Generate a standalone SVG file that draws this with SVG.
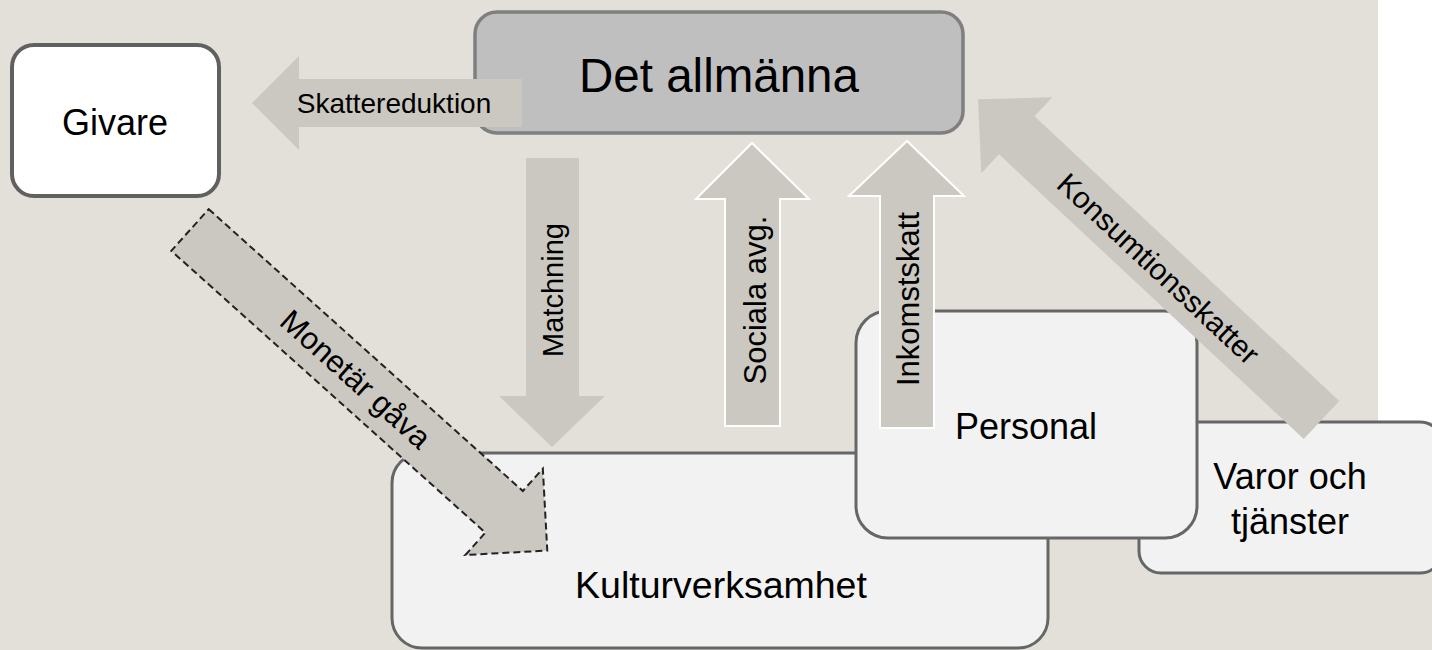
<svg xmlns="http://www.w3.org/2000/svg" width="1432" height="650" viewBox="0 0 1432 650">
<style>
text{font-family:"Liberation Sans",Arial,sans-serif;fill:#000;}
.node{stroke:#666;stroke-width:3;fill:#F2F2F2;}
.arr{fill:#CBC8C1;stroke:none;}
.arrw{fill:#CBC8C1;stroke:#FFFFFF;stroke-width:2;}
.arrd{fill:#CBC8C1;stroke:#222;stroke-width:2;stroke-dasharray:7 4;}
.big{font-size:36px;text-anchor:middle;}
</style>
<rect x="0" y="0" width="1432" height="650" fill="#E3E0D9"/>
<rect x="1378" y="0" width="54" height="422" fill="#FFFFFF"/>
<g id="givare">
<rect x="12" y="45" width="207" height="151" rx="22" fill="#FFFFFF" stroke="#606060" stroke-width="4"/>
<text class="big" x="115" y="135">Givare</text>
</g>
<g id="det-allmanna">
<rect x="475" y="12" width="488" height="121" rx="22" fill="#BFBFBF" stroke="#7F7F7F" stroke-width="3.5"/>
<text x="719" y="92" style="font-size:47.5px;text-anchor:middle">Det allmänna</text>
</g>
<g id="varor">
<rect class="node" x="1139" y="422" width="303" height="151" rx="22"/>
<text class="big" x="1290" y="489">Varor och</text>
<text class="big" x="1290" y="534">tjänster</text>
</g>
<g id="kulturverksamhet">
<rect class="node" x="392" y="453" width="656" height="195" rx="30"/>
<text x="721" y="598" style="font-size:37.5px;text-anchor:middle">Kulturverksamhet</text>
</g>
<g id="personal">
<rect class="node" x="856" y="311" width="341" height="227" rx="32"/>
<text class="big" x="1026" y="439">Personal</text>
</g>
<g id="connectors">
<g id="skattereduktion">
<polygon class="arr" points="252,103 299,56 299,79 522,79 522,127 299,127 299,150"/>
<text x="394" y="113" style="font-size:28px;text-anchor:middle">Skattereduktion</text>
</g>
<g id="matchning">
<polygon class="arr" points="526,158 579,158 579,396 605,396 552,447 499,396 526,396"/>
<text transform="translate(563,290) rotate(-90)" style="font-size:29px;text-anchor:middle">Matchning</text>
</g>
<g id="sociala">
<polygon class="arrw" points="725,426 780,426 780,199 809,199 752,143 696,199 725,199"/>
<text transform="translate(766,300) rotate(-90)" style="font-size:31px;text-anchor:middle">Sociala avg.</text>
</g>
<g id="inkomstskatt">
<polygon class="arrw" points="880,428 934,428 934,196 964,196 907,141 849,196 880,196"/>
<text transform="translate(919,299) rotate(-90)" style="font-size:31px;text-anchor:middle">Inkomstskatt</text>
</g>
<g id="monetar" transform="translate(190,230) rotate(41.9)">
<polygon class="arrd" points="0,-28 422,-28 422,-58 480,0 422,58 422,28 0,28"/>
<text x="223" y="11" style="font-size:31px;text-anchor:middle">Monetär gåva</text>
</g>
<g id="konsumtion">
<polygon class="arr" transform="translate(1321.5,420) rotate(223.05)" points="0,-26 417,-26 417,-52 470,0 417,52 417,26 0,26"/>
<text transform="translate(1158,269) rotate(43.05)" x="0" y="10" style="font-size:30px;text-anchor:middle">Konsumtionsskatter</text>
</g>
</g>
</svg>
